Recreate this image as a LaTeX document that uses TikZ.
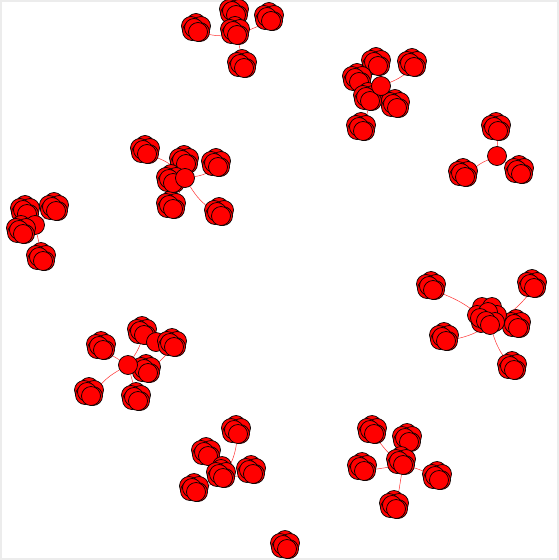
\documentclass[tikz,border=0pt]{standalone}
\usetikzlibrary{backgrounds}

\tikzset{
    ball/.style={circle, draw=black, fill=red, line width=0.7pt, inner sep=0pt, minimum size=19pt},
    link/.style={red!80, line width=0.5pt}
}
% a clump of overlapping balls, the front one carries the name
\newcommand{\blob}[3]{%
    \node[ball] at (#2,#3-5) {};
    \node[ball] at (#2+5,#3-2) {};
    \node[ball] at (#2-5,#3-2) {};
    \node[ball] at (#2-4,#3+3) {};
    \node[ball] at (#2+4,#3+4) {};
    \node[ball] at (#2-2,#3) {};
    \node[ball] (#1) at (#2+2,#3+4) {};
}
\newcommand{\bigblob}[3]{%
    \node[ball] at (#2-5,#3-9) {};
    \node[ball] at (#2+5,#3-9) {};
    \node[ball] at (#2+10,#3-1) {};
    \node[ball] at (#2-10,#3-1) {};
    \node[ball] at (#2+1,#3-4) {};
    \node[ball] at (#2-6,#3+7) {};
    \node[ball] at (#2-7,#3+2) {};
    \node[ball] at (#2+8,#3+6) {};
    \node[ball] at (#2-1,#3+5) {};
    \node[ball] (#1) at (#2+3,#3+9) {};
}

\begin{document}
\begin{tikzpicture}[x=1pt, y=-1pt]
    \useasboundingbox (0,0) rectangle (559,560);
    \draw[gray!15, line width=2pt] (1,1) rectangle (558,559);

    % top cluster
    \blob{a1}{234}{11}
    \blob{a2}{196}{28}
    \blob{a3}{269}{17}
    \blob{a4}{242}{64}
    \blob{a0}{235}{31}

    % upper right cluster
    \blob{b1}{376}{62}
    \blob{b2}{412}{63}
    \blob{b3}{357}{78}
    \blob{b5}{395}{104}
    \blob{b6}{361}{127}
    \blob{b4}{368}{97}
    \node[ball] (b0) at (381,86) {};

    % three-leaf cluster
    \blob{c1}{496}{127}
    \blob{c2}{463}{173}
    \blob{c3}{519}{170}
    \node[ball] (c0) at (497,156) {};

    % middle left cluster
    \blob{d2}{145}{150}
    \blob{d3}{184}{160}
    \blob{d4}{216}{163}
    \blob{d5}{171}{205}
    \blob{d6}{219}{212}
    \blob{d1}{171}{179}
    \node[ball] (d0) at (185,178) {};

    % left edge cluster
    \blob{e1}{25}{210}
    \blob{e2}{54}{207}
    \blob{e4}{41}{257}
    \node[ball] (e0) at (35,225) {};
    \blob{e3}{21}{230}

    % right cluster with large hub
    \blob{f1}{431}{286}
    \blob{f2}{532}{284}
    \blob{f3}{516}{324}
    \blob{f4}{444}{337}
    \blob{f5}{512}{366}
    \bigblob{f0}{487}{316}

    % lower left cluster
    \blob{g1}{101}{346}
    \blob{g2}{142}{331}
    \node[ball] (g7) at (156,342) {};
    \blob{g3}{172}{343}
    \blob{g4}{146}{369}
    \blob{g5}{89}{392}
    \blob{g6}{136}{397}
    \node[ball] (g0) at (128,365) {};

    % bottom middle cluster
    \blob{h1}{236}{430}
    \blob{h2}{206}{452}
    \blob{h3}{251}{470}
    \blob{h4}{194}{488}
    \node[ball] (h5) at (222,466) {};
    \blob{h0}{221}{474}

    % bottom right cluster
    \blob{i1}{372}{430}
    \blob{i2}{407}{438}
    \blob{i3}{362}{467}
    \blob{i4}{437}{476}
    \blob{i5}{394}{505}
    \blob{i0}{401}{461}

    % lone clump at the bottom
    \blob{j0}{285}{545}

    \begin{scope}[on background layer]
        \draw[link] (a0) to[bend left=8] (a2);
        \draw[link] (a0) -- (a3);
        \draw[link] (a0) -- (a4);
        \draw[link] (b0) -- (b1);
        \draw[link] (b0) to[bend right=8] (b2);
        \draw[link] (b0) -- (b3);
        \draw[link] (b0) -- (b5);
        \draw[link] (b4) -- (b6);
        \draw[link] (c0) -- (c1);
        \draw[link] (c0) to[bend right=10] (c2);
        \draw[link] (c0) -- (c3);
        \draw[link] (d0) to[bend right=12] (d2);
        \draw[link] (d0) to[bend right=10] (d4);
        \draw[link] (d0) to[bend right=12] (d6);
        \draw[link] (d0) -- (d5);
        \draw[link] (d0) -- (d3);
        \draw[link] (e0) -- (e2);
        \draw[link] (e0) -- (e4);
        \draw[link] (f0) to[bend right=10] (f1);
        \draw[link] (f0) to[bend right=10] (f2);
        \draw[link] (f0) -- (f3);
        \draw[link] (f0) to[bend left=8] (f4);
        \draw[link] (f0) to[bend right=10] (f5);
        \draw[link] (g0) -- (g1);
        \draw[link] (g0) to[bend right=6] (g2);
        \draw[link] (g0) -- (g4);
        \draw[link] (g4) -- (g3);
        \draw[link] (g0) to[bend right=10] (g5);
        \draw[link] (g0) -- (g6);
        \draw[link] (h0) to[bend right=10] (h1);
        \draw[link] (h0) -- (h3);
        \draw[link] (h0) -- (h4);
        \draw[link] (i0) to[bend left=8] (i1);
        \draw[link] (i0) -- (i2);
        \draw[link] (i0) -- (i3);
        \draw[link] (i0) to[bend left=8] (i4);
        \draw[link] (i0) -- (i5);
    \end{scope}
\end{tikzpicture}
\end{document}
